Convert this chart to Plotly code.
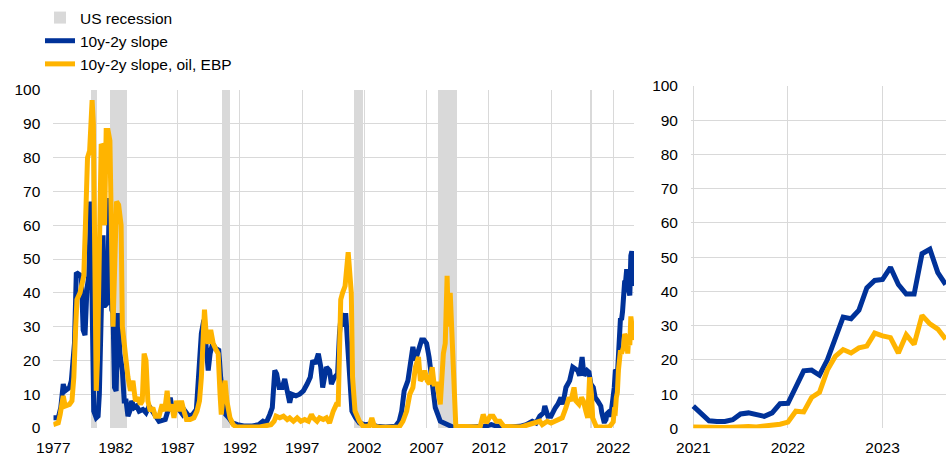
import plotly.graph_objects as go

# US recessions (decimal years)
rec_start = [1980.08, 1981.55, 1990.58, 2001.2, 2007.98, 2020.12]
rec_end = [1980.5, 1982.95, 1991.25, 2001.9, 2009.45, 2020.33]

# recession probability (%), readings before 2021 (decimal year, value)
slope_hist = [
    (1977.0, 3.0), (1977.4, 3.0), (1977.6, 6), (1977.8, 13), (1977.95, 11), (1978.3, 12),
    (1978.45, 14), (1978.6, 20), (1978.7, 25), (1978.85, 46), (1979.25, 45), (1979.4, 29),
    (1979.55, 27.5), (1979.7, 41), (1979.85, 45), (1980.0, 67), (1980.1, 40), (1980.25, 5),
    (1980.45, 3), (1980.6, 3.5), (1980.7, 10), (1980.85, 38), (1981.0, 57), (1981.1, 36),
    (1981.35, 37), (1981.5, 68), (1981.6, 48), (1981.7, 35), (1981.8, 34), (1981.92, 12),
    (1982.05, 11), (1982.2, 34), (1982.35, 22), (1982.55, 17), (1982.7, 8), (1982.85, 8),
    (1983.0, 3.5), (1983.15, 5), (1983.3, 8), (1983.5, 6), (1983.7, 6.5), (1983.9, 5),
    (1984.2, 5.5), (1984.45, 4.5), (1984.7, 6.5), (1984.95, 5), (1985.3, 3), (1985.5, 2),
    (1986.0, 2.5), (1986.2, 5), (1986.4, 9), (1986.6, 5), (1986.8, 6), (1987.1, 5.5),
    (1987.4, 4), (1987.6, 5), (1987.9, 3.5), (1988.2, 4), (1988.5, 5.5), (1988.7, 15),
    (1988.9, 28), (1989.1, 32), (1989.3, 22), (1989.45, 17), (1989.6, 22), (1989.8, 25),
    (1990.05, 23.5), (1990.3, 23), (1990.45, 15), (1990.6, 10), (1990.85, 4), (1991.1, 3),
    (1991.4, 1.5), (1991.8, 1), (1992.3, 0.6), (1993.0, 0.6), (1993.5, 1), (1993.85, 2),
    (1994.1, 1.5), (1994.4, 4), (1994.6, 6), (1994.8, 17), (1994.95, 16), (1995.15, 12),
    (1995.4, 12), (1995.6, 14.5), (1995.8, 11), (1996.0, 7.5), (1996.15, 10), (1996.5, 9.5),
    (1996.8, 10), (1997.1, 11), (1997.4, 13), (1997.65, 15), (1997.85, 20), (1998.05, 19),
    (1998.3, 22), (1998.5, 18), (1998.65, 12), (1998.75, 14), (1998.95, 18), (1999.2, 17),
    (1999.35, 13), (1999.6, 15), (1999.85, 16), (2000.0, 28), (2000.15, 34), (2000.35, 30),
    (2000.5, 34), (2000.65, 25), (2000.8, 15), (2001.0, 5), (2001.3, 3), (2001.6, 1.5),
    (2002.0, 1), (2002.5, 1.2), (2003.0, 0.5), (2003.7, 0.3), (2004.5, 0.5), (2004.8, 2),
    (2005.0, 5), (2005.2, 11), (2005.5, 14), (2005.7, 18), (2005.9, 24), (2006.1, 20),
    (2006.35, 23), (2006.6, 26), (2006.8, 26), (2007.0, 25), (2007.2, 21), (2007.35, 16),
    (2007.5, 11), (2007.7, 6), (2007.9, 4), (2008.1, 2), (2008.4, 1.5), (2008.8, 0.8),
    (2009.1, 0.3), (2010.0, 0.2), (2011.0, 0.2), (2011.7, 0.5), (2012.2, 1), (2012.7, 0.5),
    (2013.5, 0.3), (2014.5, 0.5), (2015.0, 1), (2015.5, 2), (2015.8, 1.5), (2016.1, 3.5),
    (2016.4, 4.5), (2016.5, 6.5), (2016.75, 3.5), (2017.0, 3.5), (2017.35, 6), (2017.55, 7),
    (2017.8, 9), (2017.95, 7), (2018.2, 12), (2018.5, 14), (2018.75, 18), (2018.9, 17.5),
    (2019.15, 17), (2019.3, 15.5), (2019.5, 21), (2019.65, 15.5), (2019.9, 17), (2020.05, 16.5),
    (2020.2, 13), (2020.4, 12), (2020.55, 9), (2020.75, 8), (2020.9, 6.5),
]

slope_oil_ebp_hist = [
    (1977.0, 1), (1977.4, 1.5), (1977.55, 4), (1977.8, 9.5), (1977.95, 6.5), (1978.3, 7),
    (1978.5, 8), (1978.65, 15), (1978.8, 30), (1978.9, 38), (1979.15, 40), (1979.3, 43),
    (1979.45, 45), (1979.6, 62), (1979.75, 80), (1979.92, 82), (1980.05, 95), (1980.12, 97),
    (1980.22, 90), (1980.3, 60), (1980.45, 11), (1980.55, 20), (1980.7, 60), (1980.85, 84),
    (1981.0, 83), (1981.12, 60), (1981.25, 88), (1981.4, 88), (1981.55, 85), (1981.65, 60),
    (1981.8, 30), (1981.95, 50), (1982.08, 67), (1982.25, 66), (1982.45, 60), (1982.55, 30),
    (1982.7, 24), (1982.85, 20), (1983.0, 15), (1983.2, 11), (1983.4, 14), (1983.6, 8),
    (1983.8, 9), (1984.0, 7), (1984.15, 8), (1984.3, 22), (1984.45, 20), (1984.6, 8),
    (1984.8, 5), (1985.0, 6), (1985.2, 3.5), (1985.5, 3.5), (1985.75, 7), (1985.95, 5),
    (1986.15, 11), (1986.3, 5), (1986.5, 7), (1986.7, 3), (1986.9, 8), (1987.1, 5),
    (1987.3, 8), (1987.5, 5), (1987.7, 2.5), (1988.0, 2.5), (1988.3, 3), (1988.55, 5),
    (1988.75, 8), (1988.9, 15), (1989.05, 25), (1989.15, 35), (1989.3, 27), (1989.45, 25),
    (1989.65, 29), (1989.85, 25), (1990.1, 23), (1990.25, 22), (1990.4, 10), (1990.5, 4),
    (1990.65, 10), (1990.8, 14), (1990.95, 8), (1991.2, 3), (1991.45, 1), (1991.7, 0.3),
    (1993.6, 0.3), (1994.0, 0.6), (1994.5, 1), (1994.75, 2), (1994.9, 3.5), (1995.2, 3),
    (1995.5, 3.5), (1995.8, 2.5), (1996.0, 3), (1996.3, 2), (1996.6, 3), (1996.9, 2),
    (1997.2, 2.5), (1997.5, 2), (1997.75, 4), (1997.9, 3), (1998.2, 2), (1998.4, 3),
    (1998.7, 2.5), (1998.95, 3), (1999.2, 1.5), (1999.5, 5), (1999.75, 7), (1999.9, 7),
    (2000.0, 20), (2000.1, 38), (2000.25, 40), (2000.45, 42), (2000.7, 52), (2000.85, 45),
    (2000.95, 40), (2001.05, 15), (2001.25, 5), (2001.6, 2), (2001.9, 0.5), (2002.4, 0.5),
    (2002.6, 3), (2002.8, 0.5), (2003.2, 0.2), (2004.8, 0.3), (2005.1, 2), (2005.4, 5),
    (2005.65, 10), (2005.9, 12), (2006.1, 18), (2006.35, 21), (2006.5, 14), (2006.7, 15),
    (2006.85, 17), (2007.05, 14), (2007.25, 13), (2007.45, 18), (2007.6, 13), (2007.85, 13),
    (2008.0, 10), (2008.1, 7), (2008.35, 22), (2008.5, 25), (2008.65, 45), (2008.75, 30),
    (2008.9, 40), (2009.05, 25), (2009.2, 10), (2009.35, 0.5), (2011.3, 0.3), (2011.55, 4),
    (2011.8, 1.5), (2012.1, 3.5), (2012.35, 3.5), (2012.6, 2), (2012.9, 2), (2013.2, 0.5),
    (2014.6, 0.3), (2015.0, 0.8), (2015.5, 1.5), (2015.8, 2), (2016.1, 2), (2016.3, 1),
    (2016.7, 2), (2017.0, 1.5), (2017.3, 2), (2017.6, 2.5), (2017.9, 3), (2018.2, 6),
    (2018.45, 9), (2018.6, 8), (2018.85, 12), (2019.0, 8), (2019.25, 7), (2019.45, 9),
    (2019.6, 8), (2019.8, 5), (2019.95, 3), (2020.1, 15), (2020.25, 10), (2020.35, 3),
    (2020.5, 1), (2020.65, 0.3), (2020.95, 0.3),
]

# monthly readings Jan 2021 - Sep 2023
slope_recent = [6.5, 4.5, 2.2, 2.0, 2.0, 2.5, 4.2, 4.5, 4.0, 3.5, 4.5, 7.2,
                7.3, 12.0, 16.8, 17.0, 15.5, 20.0, 26.0, 32.5, 32.0, 34.5, 41.0, 43.2,
                43.5, 47.0, 42.0, 39.2, 39.2, 51.0, 52.3, 45.5, 42.0]
slope_oil_ebp_recent = [0.4, 0.3, 0.2, 0.2, 0.2, 0.3, 0.5, 0.5, 0.4, 0.6, 1.0, 1.2,
                        1.8, 5.0, 4.8, 9.0, 10.5, 17.0, 21.0, 23.0, 22.0, 23.5, 24.0, 27.8,
                        27.0, 26.5, 22.0, 27.3, 24.5, 33.0, 30.5, 29.0, 26.0]
months_recent = [2021 + m / 12 for m in range(len(slope_recent))]

left_ticks = [1977, 1982, 1987, 1992, 1997, 2002, 2007, 2012, 2017, 2022]
right_ticks = [2021, 2022, 2023]

BLUE = "#003299"
YELLOW = "#FFB400"
GREY = "#D9D9D9"
GRID = "#D9D9D9"
FONT = "Arial, 'Liberation Sans', sans-serif"

W, H = 946, 458

blue_x = [p[0] for p in slope_hist] + months_recent
blue_y = [p[1] for p in slope_hist] + slope_recent
yel_x = [p[0] for p in slope_oil_ebp_hist] + months_recent
yel_y = [p[1] for p in slope_oil_ebp_hist] + slope_oil_ebp_recent

fig = go.Figure()

# recession shading as bars
fig.add_trace(go.Bar(
    x=[(a + b) / 2 for a, b in zip(rec_start, rec_end)],
    y=[100] * len(rec_start),
    width=[b - a for a, b in zip(rec_start, rec_end)],
    marker=dict(color=GREY, line_width=0),
    name="US recession",
    hoverinfo="skip",
    xaxis="x", yaxis="y",
))

fig.add_trace(go.Scatter(
    x=blue_x, y=blue_y, mode="lines", name="10y-2y slope",
    line=dict(color=BLUE, width=5), xaxis="x", yaxis="y",
))
fig.add_trace(go.Scatter(
    x=yel_x, y=yel_y, mode="lines", name="10y-2y slope, oil, EBP",
    line=dict(color=YELLOW, width=5), xaxis="x", yaxis="y",
))

# right panel: recent months
fig.add_trace(go.Scatter(
    x=months_recent, y=slope_recent, mode="lines", showlegend=False,
    line=dict(color=BLUE, width=5), xaxis="x2", yaxis="y2",
))
fig.add_trace(go.Scatter(
    x=months_recent, y=slope_oil_ebp_recent, mode="lines", showlegend=False,
    line=dict(color=YELLOW, width=5), xaxis="x2", yaxis="y2",
))

axis_common = dict(
    showgrid=True, gridcolor=GRID, gridwidth=1,
    zeroline=False, showline=False, ticks="",
    tickfont=dict(family=FONT, size=15.5, color="#000000"),
    automargin=False,
)


def px_x(x):
    return x / W


def px_y(y):
    return 1 - y / H


fig.update_layout(
    width=W, height=H,
    autosize=False,
    margin=dict(l=0, r=0, t=0, b=0),
    paper_bgcolor="white",
    plot_bgcolor="white",
    bargap=0,
    font=dict(family=FONT, size=15.5, color="#000000"),
    xaxis=dict(
        domain=[px_x(53.3), px_x(634)], range=[1977, 2023.67],
        tickmode="array", tickvals=left_ticks, ticktext=[str(t) for t in left_ticks],
        anchor="y", ticklabelstandoff=8, **axis_common,
    ),
    yaxis=dict(
        domain=[px_y(428), px_y(90)], range=[0, 100], dtick=10, tick0=0,
        anchor="x", ticklabelstandoff=12, **axis_common,
    ),
    xaxis2=dict(
        domain=[px_x(691), 1.0], range=[2020.976, 2023.67],
        tickmode="array", tickvals=right_ticks, ticktext=[str(t) for t in right_ticks],
        anchor="y2", ticklabelstandoff=8, **axis_common,
    ),
    yaxis2=dict(
        domain=[px_y(428.3), px_y(86)], range=[0, 100], dtick=10, tick0=0,
        anchor="x2", ticklabelstandoff=12, **axis_common,
    ),
    legend=dict(
        x=px_x(40), y=1 - 1 / H, xanchor="left", yanchor="top",
        bgcolor="rgba(0,0,0,0)", itemwidth=30,
        font=dict(family=FONT, size=15.5, color="#000000"),
        tracegroupgap=0,
    ),
    showlegend=True,
)

# drop the default page margin so the figure fills the window exactly
fig.write_html(
    "out.html",
    config={"displayModeBar": False},
    post_script="document.body.style.margin='0';",
)
